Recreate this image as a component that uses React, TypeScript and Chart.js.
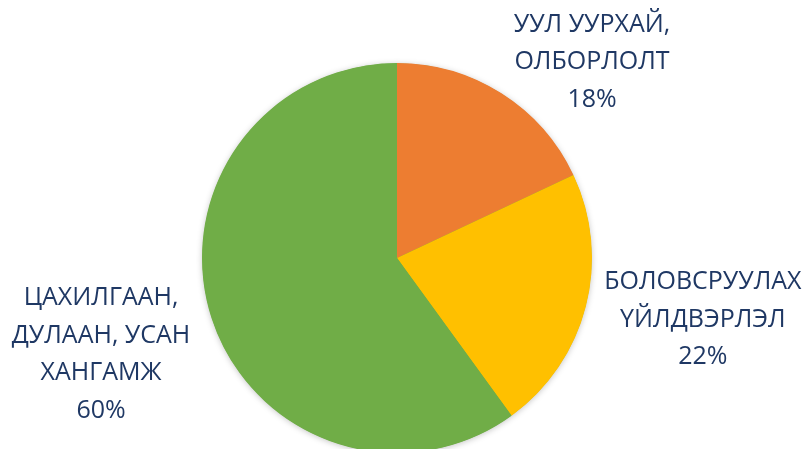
import React, { useEffect, useRef } from "react";
import { Chart, registerables } from "chart.js";

Chart.register(...registerables);

const categories: string[][] = [
  ["УУЛ УУРХАЙ,", "ОЛБОРЛОЛТ"],
  ["БОЛОВСРУУЛАХ", "ҮЙЛДВЭРЛЭЛ"],
  ["ЦАХИЛГААН,", "ДУЛААН, УСАН", "ХАНГАМЖ"],
];
const values: number[] = [18, 22, 60];
const colors: string[] = ["#ED7D31", "#FFC000", "#70AD47"];

// label placement relative to each slice's mid angle (degrees shift, radius factor)
const labelAngleShift: number[] = [12.45, -3.0, 0];
const labelRadiusFactor: number[] = [1.418, 1.6, 1.596];

const TEXT_COLOR = "#1F3864";
const FONT = "25px 'Open Sans'";
const LINE_H = 37.5;

const labelPlugin = {
  id: "pieLabels",
  afterDatasetsDraw(chart: any) {
    const ctx = chart.ctx;
    const meta = chart.getDatasetMeta(0);
    const total = values.reduce((a, b) => a + b, 0);
    ctx.save();
    ctx.font = FONT;
    ctx.fillStyle = TEXT_COLOR;
    ctx.textAlign = "center";
    ctx.textBaseline = "middle";
    meta.data.forEach((arc: any, i: number) => {
      const p = arc.getProps(["x", "y", "startAngle", "endAngle", "outerRadius"], true);
      const mid = (p.startAngle + p.endAngle) / 2 + (labelAngleShift[i] * Math.PI) / 180;
      const r = p.outerRadius * labelRadiusFactor[i];
      const cx = p.x + Math.cos(mid) * r;
      const cy = p.y + Math.sin(mid) * r;
      const lines = [...categories[i], Math.round((values[i] / total) * 100) + "%"];
      const startY = cy - ((lines.length - 1) * LINE_H) / 2;
      lines.forEach((t, k) => ctx.fillText(t, cx, startY + k * LINE_H));
    });
    ctx.restore();
  },
};

const shadowPlugin = {
  id: "pieShadow",
  beforeDatasetsDraw(chart: any) {
    const ctx = chart.ctx;
    const meta = chart.getDatasetMeta(0);
    const arc = meta.data[0];
    if (!arc) return;
    const p = arc.getProps(["x", "y", "outerRadius"], true);
    ctx.save();
    ctx.shadowColor = "rgba(0,0,0,0.25)";
    ctx.shadowBlur = 6;
    ctx.shadowOffsetX = 0;
    ctx.shadowOffsetY = 1;
    ctx.fillStyle = colors[2];
    ctx.beginPath();
    ctx.arc(p.x, p.y, p.outerRadius - 0.5, 0, Math.PI * 2);
    ctx.fill();
    ctx.restore();
  },
};

export default function App() {
  const ref = useRef<HTMLCanvasElement | null>(null);
  useEffect(() => {
    if (!ref.current) return;
    const chart = new Chart(ref.current, {
      type: "pie",
      data: {
        labels: categories.map((c) => c.join(" ")),
        datasets: [
          {
            data: values,
            backgroundColor: colors,
            borderWidth: 0,
          },
        ],
      },
      options: {
        responsive: false,
        animation: false,
        layout: { padding: { top: 63, bottom: 63, left: 202, right: 214 } },
        plugins: {
          legend: { display: false },
          tooltip: { enabled: false },
        },
      },
      plugins: [shadowPlugin, labelPlugin],
    });
    return () => chart.destroy();
  }, []);
  return (
    <div
      style={{
        position: "fixed",
        left: 0,
        top: 0,
        width: 806,
        height: 449,
        overflow: "hidden",
        background: "#ffffff",
      }}
    >
      <canvas ref={ref} width={806} height={516} style={{ display: "block" }} />
    </div>
  );
}
